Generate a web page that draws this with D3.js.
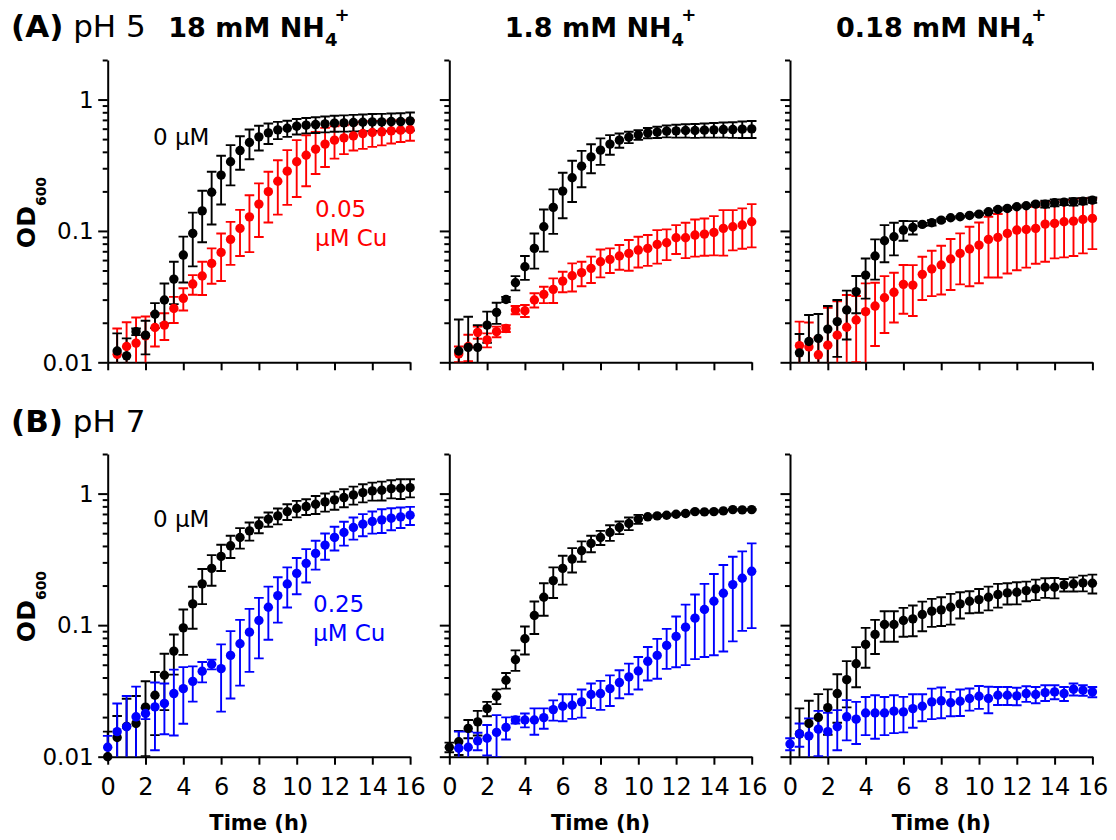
<!DOCTYPE html>
<html>
<head>
<meta charset="utf-8">
<script src="https://cdn.jsdelivr.net/npm/d3@7"></script>
<style>
  body { margin: 0; background: #fff; }
  svg text { font-family: "DejaVu Sans", sans-serif; }
</style>
</head>
<body>
<svg id="chart" width="1116" height="840"></svg>
<script>
// Sampling times (h)
const timeA = [0.5,1,1.5,2,2.5,3,3.5,4,4.5,5,5.5,6,6.5,7,7.5,8,8.5,9,9.5,10,10.5,11,11.5,12,12.5,13,13.5,14,14.5,15,15.5,16];
const timeB = [0,0.5,1,1.5,2,2.5,3,3.5,4,4.5,5,5.5,6,6.5,7,7.5,8,8.5,9,9.5,10,10.5,11,11.5,12,12.5,13,13.5,14,14.5,15,15.5,16];

// (A) pH 5 — mean OD600 and SD
const ph5_18_ctrl    = [0.0122,0.0112,0.0171,0.0161,0.0232,0.0298,0.0430,0.0655,0.0957,0.142,0.197,0.266,0.336,0.409,0.471,0.520,0.558,0.588,0.605,0.627,0.638,0.645,0.653,0.661,0.664,0.668,0.672,0.676,0.676,0.680,0.680,0.688];
const ph5_18_ctrl_sd = [0.0044,0.0040,0.0010,0.0046,0.0050,0.0100,0.0153,0.025,0.042,0.060,0.085,0.107,0.114,0.117,0.120,0.111,0.099,0.088,0.085,0.085,0.085,0.088,0.090,0.092,0.094,0.096,0.098,0.100,0.102,0.104,0.106,0.108];
const ph5_18_cu      = [0.0115,0.0132,0.0140,0.0159,0.0184,0.0192,0.0257,0.0307,0.0394,0.0454,0.0566,0.0686,0.0862,0.1045,0.128,0.160,0.199,0.239,0.285,0.336,0.377,0.419,0.458,0.491,0.511,0.529,0.551,0.561,0.568,0.578,0.585,0.591];
const ph5_18_cu_sd   = [0.0066,0.0070,0.0079,0.0064,0.0052,0.0044,0.0058,0.0059,0.0067,0.0129,0.017,0.027,0.031,0.040,0.059,0.070,0.083,0.106,0.127,0.155,0.158,0.148,0.151,0.136,0.127,0.120,0.130,0.125,0.120,0.115,0.110,0.105];

const ph5_1p8_ctrl    = [0.0122,0.0130,0.0130,0.0192,0.0240,0.0301,0.0403,0.0534,0.0736,0.1076,0.151,0.201,0.254,0.311,0.366,0.412,0.458,0.491,0.517,0.539,0.558,0.565,0.575,0.578,0.581,0.581,0.585,0.588,0.591,0.591,0.595,0.598];
const ph5_1p8_ctrl_sd = [0.0090,0.0092,0.0062,0.0051,0.0044,0.0014,0.0050,0.011,0.022,0.038,0.056,0.076,0.088,0.096,0.091,0.094,0.078,0.061,0.051,0.046,0.050,0.055,0.060,0.065,0.068,0.070,0.072,0.075,0.078,0.080,0.085,0.088];
const ph5_1p8_cu      = [0.0116,0.0132,0.0169,0.0148,0.0171,0.0181,0.0250,0.0247,0.0298,0.0329,0.0359,0.0415,0.0456,0.0481,0.0519,0.0583,0.0607,0.0644,0.0675,0.0715,0.0736,0.0789,0.0813,0.0887,0.0887,0.0930,0.0946,0.0974,0.1045,0.1076,0.1108,0.1174];
const ph5_1p8_cu_sd   = [0.0016,0.0030,0.0018,0.0018,0.0016,0.0011,0.0018,0.0026,0.0037,0.0047,0.0076,0.0074,0.0110,0.0102,0.0118,0.0140,0.0129,0.0137,0.0178,0.0188,0.0194,0.0225,0.0214,0.0220,0.0266,0.0293,0.0298,0.0322,0.0396,0.0365,0.0376,0.0425];

const ph5_0p18_ctrl    = [0.0118,0.0144,0.0152,0.0179,0.0204,0.0250,0.0345,0.0461,0.0644,0.0842,0.0903,0.1015,0.1063,0.1121,0.1154,0.1209,0.1259,0.1282,0.1312,0.1343,0.1398,0.1457,0.1483,0.1527,0.1554,0.160,0.160,0.1638,0.1657,0.1667,0.1686,0.1716];
const ph5_0p18_ctrl_sd = [0.0046,0.0085,0.0081,0.0089,0.0094,0.0101,0.0109,0.0156,0.0218,0.0265,0.0251,0.0174,0.0124,0.0030,0.0055,0.0030,0.0020,0.0020,0.0020,0.0020,0.0030,0.0030,0.0030,0.0030,0.0030,0.0040,0.0096,0.0098,0.0080,0.0110,0.0090,0.0082];
const ph5_0p18_cu      = [0.0134,0.0131,0.0114,0.0135,0.0161,0.0185,0.0210,0.0243,0.0268,0.0310,0.0341,0.0392,0.0387,0.0467,0.0513,0.0550,0.0611,0.0675,0.0728,0.0780,0.0862,0.0893,0.0957,0.1015,0.1026,0.1045,0.1127,0.1140,0.1174,0.1188,0.1224,0.1245];
const ph5_0p18_cu_sd   = [0.0070,0.0070,0.0040,0.0125,0.0130,0.0140,0.0110,0.0156,0.0135,0.0143,0.0140,0.0158,0.0162,0.0169,0.0194,0.0222,0.0256,0.0283,0.0349,0.0380,0.0420,0.0451,0.0483,0.0513,0.0500,0.0483,0.0544,0.0522,0.0545,0.0544,0.0549,0.0518];

// (B) pH 7 — mean OD600 and SD (null = no point drawn)
const ph7_18_ctrl    = [0.0100,0.0140,0.0170,0.0179,0.0238,0.0293,0.0416,0.0635,0.0954,0.145,0.206,0.270,0.333,0.401,0.464,0.521,0.579,0.639,0.677,0.730,0.770,0.797,0.830,0.865,0.895,0.933,0.977,1.018,1.048,1.060,1.091,1.098,1.110];
const ph7_18_ctrl_sd = [0.0055,0.0064,0.0106,0.0110,0.0137,0.0147,0.019,0.0214,0.036,0.051,0.0615,0.0708,0.0753,0.0767,0.082,0.082,0.079,0.079,0.093,0.100,0.110,0.109,0.130,0.136,0.141,0.146,0.153,0.160,0.164,0.173,0.171,0.187,0.174];
const ph7_18_cu      = [0.0118,0.0155,0.0169,0.0201,0.0213,0.0239,0.0254,0.0302,0.0329,0.0374,0.0446,0.0504,0.0467,0.0589,0.0722,0.0885,0.1085,0.1369,0.1678,0.2056,0.2477,0.2949,0.3512,0.4061,0.4642,0.5064,0.5526,0.5857,0.6136,0.6317,0.6503,0.6657,0.6854];
const ph7_18_cu_sd   = [0.0026,0.0099,0.0120,0.0140,0.0020,0.0127,0.0106,0.0157,0.0151,0.0112,0.0079,0.0043,0.0247,0.0312,0.0375,0.0444,0.0526,0.0594,0.0633,0.0693,0.076,0.0838,0.0867,0.0918,0.095,0.104,0.1055,0.112,0.117,0.1295,0.124,0.118,0.1076];

const ph7_1p8_ctrl    = [0.0118,0.0130,0.0164,0.0184,0.0232,0.0288,0.0381,0.0546,0.0788,0.1184,0.163,0.218,0.270,0.318,0.368,0.418,0.464,0.506,0.553,0.593,0.639,0.666,0.677,0.685,0.697,0.706,0.730,0.726,0.730,0.739,0.756,0.752,0.756];
const ph7_1p8_ctrl_sd = [0.0010,0.0027,0.0026,0.0039,0.0029,0.0037,0.0052,0.0097,0.0189,0.0328,0.0452,0.057,0.0668,0.067,0.065,0.060,0.057,0.069,0.061,0.065,0.050,0.010,0.010,0.010,0.010,0.010,0.010,0.010,0.010,0.010,0.010,0.010,0.010];
const ph7_1p8_cu      = [null,0.0116,0.0118,0.0132,0.0138,0.0153,0.0167,0.0190,0.0190,0.0190,0.0198,0.0228,0.0242,0.0246,0.0261,0.0297,0.0302,0.0329,0.0366,0.0404,0.0448,0.0531,0.0589,0.0701,0.0821,0.0965,0.113,0.1315,0.152,0.1748,0.2033,0.2271,0.2566];
const ph7_1p8_cu_sd   = [null,0.0039,0.0037,0.0020,0.0036,0.0054,0.0032,0.0011,0.0023,0.0043,0.0035,0.0040,0.0056,0.0052,0.0063,0.0063,0.0075,0.0086,0.0088,0.0106,0.0124,0.0151,0.0198,0.0236,0.0343,0.0468,0.0578,0.0743,0.0929,0.1117,0.128,0.1367,0.1617];

const ph7_0p18_ctrl    = [null,0.0149,0.0179,0.0199,0.0236,0.0302,0.0385,0.0509,0.0714,0.0850,0.1012,0.1012,0.1085,0.1117,0.1204,0.1277,0.1307,0.1369,0.1451,0.152,0.1564,0.163,0.1708,0.1758,0.1778,0.1831,0.1885,0.1941,0.1941,0.2022,0.2056,0.2094,0.2082];
const ph7_0p18_ctrl_sd = [null,0.0084,0.0087,0.0100,0.0089,0.0121,0.0148,0.0172,0.0240,0.0247,0.0265,0.0265,0.0268,0.0293,0.0306,0.0306,0.0323,0.0359,0.0328,0.0290,0.0321,0.0334,0.0350,0.0324,0.0340,0.0311,0.0334,0.0330,0.0344,0.0222,0.0253,0.0287,0.0340];
const ph7_0p18_cu      = [0.0125,0.0149,0.0144,0.0162,0.0155,0.0169,0.0201,0.0193,0.0215,0.0215,0.0215,0.0222,0.0219,0.0232,0.0242,0.0261,0.0266,0.0257,0.0264,0.0277,0.0288,0.0277,0.0293,0.0293,0.0290,0.0302,0.0297,0.0307,0.0311,0.0302,0.0326,0.0320,0.0311];
const ph7_0p18_cu_sd   = [0.0013,0.0030,0.0051,0.0061,0.0061,0.0057,0.0068,0.0068,0.0069,0.0078,0.0069,0.0071,0.0066,0.0066,0.0056,0.0068,0.0070,0.0054,0.0060,0.0053,0.0057,0.0063,0.0046,0.0046,0.0044,0.0041,0.0042,0.0042,0.0038,0.0037,0.0034,0.0029,0.0028];

// Axis ticks
const xTicks = [0,2,4,6,8,10,12,14,16];
const yTicks = [0.01,0.02,0.03,0.04,0.05,0.06,0.07,0.08,0.09,0.1,0.2,0.3,0.4,0.5,0.6,0.7,0.8,0.9,1,2];
const yMajor = [0.01,0.1,1];
const ammonium = ["18","1.8","0.18"];

const RED = "#ff0000", BLUE = "#0000ff", BLACK = "#000000";

const panels = [
  {row:0,col:0,time:timeA,series:[{v:ph5_18_cu,sd:ph5_18_cu_sd,c:RED},{v:ph5_18_ctrl,sd:ph5_18_ctrl_sd,c:BLACK}]},
  {row:0,col:1,time:timeA,series:[{v:ph5_1p8_cu,sd:ph5_1p8_cu_sd,c:RED},{v:ph5_1p8_ctrl,sd:ph5_1p8_ctrl_sd,c:BLACK}]},
  {row:0,col:2,time:timeA,series:[{v:ph5_0p18_cu,sd:ph5_0p18_cu_sd,c:RED},{v:ph5_0p18_ctrl,sd:ph5_0p18_ctrl_sd,c:BLACK}]},
  {row:1,col:0,time:timeB,series:[{v:ph7_18_ctrl,sd:ph7_18_ctrl_sd,c:BLACK},{v:ph7_18_cu,sd:ph7_18_cu_sd,c:BLUE}]},
  {row:1,col:1,time:timeB,series:[{v:ph7_1p8_ctrl,sd:ph7_1p8_ctrl_sd,c:BLACK},{v:ph7_1p8_cu,sd:ph7_1p8_cu_sd,c:BLUE}]},
  {row:1,col:2,time:timeB,series:[{v:ph7_0p18_ctrl,sd:ph7_0p18_ctrl_sd,c:BLACK},{v:ph7_0p18_cu,sd:ph7_0p18_cu_sd,c:BLUE}]}
];

// Layout
const rowTop = [60, 454], rowBottom = [362.3, 756.7];
const colLeft = [107.7, 449.3, 790], plotW = 302.4;

const svg = d3.select("#chart");
svg.append("rect").attr("width",1116).attr("height",840).attr("fill","#fff");
const defs = svg.append("defs");

panels.forEach((p, idx) => {
  const x0 = colLeft[p.col], x1 = x0 + plotW;
  const y0 = rowTop[p.row], y1 = rowBottom[p.row];
  const x = d3.scaleLinear().domain([0,16]).range([x0, x1]);
  const y = d3.scaleLog().domain([0.01,2]).range([y1, y0]);
  const g = svg.append("g");

  // axes
  const gy = g.append("g").attr("transform",`translate(${x0},0)`)
    .call(d3.axisLeft(y).tickValues(yTicks).tickSize(5).tickSizeOuter(0).tickFormat(""));
  gy.selectAll(".tick line").filter(d => yMajor.includes(d)).attr("x2",-9.5);
  const gx = g.append("g").attr("transform",`translate(0,${y1})`)
    .call(d3.axisBottom(x).tickValues(xTicks).tickSize(8).tickSizeOuter(0).tickPadding(13)
      .tickFormat(p.row === 1 ? d3.format("d") : ""));
  [gx, gy].forEach(a => {
    a.select(".domain").attr("stroke",BLACK).attr("stroke-width",2);
    a.selectAll(".tick line").attr("stroke",BLACK).attr("stroke-width",2);
  });
  gx.selectAll(".tick text").attr("font-size",24).attr("fill",BLACK)
    .style("font-family","'DejaVu Sans', sans-serif");

  if (p.col === 0) {
    g.selectAll("text.ylab").data(yMajor).join("text")
      .attr("x", x0 - 14).attr("y", d => y(d)).attr("dy","0.36em")
      .attr("text-anchor","end").attr("font-size",23).text(d => String(d));
  }

  // error bars, clipped at the axes
  const cid = "clip" + idx;
  defs.append("clipPath").attr("id",cid).append("rect")
    .attr("x", x0 - 15).attr("y", y0 - 20).attr("width", plotW + 30).attr("height", y1 - y0 + 20);
  const eb = g.append("g").attr("clip-path",`url(#${cid})`);
  const cap = 4.8;

  p.series.forEach(s => {
    const pts = p.time.map((t,i) => ({t, v:s.v[i], sd:s.sd[i]})).filter(d => d.v != null);
    const sg = eb.append("g").attr("stroke", s.c).attr("stroke-width",1.9).attr("fill","none");
    pts.forEach(d => {
      const cx = x(d.t);
      const hi = y(d.v + d.sd);
      const loV = d.v - d.sd;
      const lo = loV > 0.001 ? y(loV) : y1 + 30;
      sg.append("line").attr("x1",cx).attr("x2",cx).attr("y1",hi).attr("y2",lo);
      sg.append("line").attr("x1",cx-cap).attr("x2",cx+cap).attr("y1",hi).attr("y2",hi);
      if (loV > 0.001) sg.append("line").attr("x1",cx-cap).attr("x2",cx+cap).attr("y1",lo).attr("y2",lo);
    });
    g.append("g").selectAll("circle").data(pts).join("circle")
      .attr("cx", d => x(d.t)).attr("cy", d => y(d.v)).attr("r",4.7).attr("fill", s.c);
  });

  // panel title (top row)
  if (p.row === 0) {
    const tt = svg.append("text").attr("x",(x0+x1)/2).attr("y",36.5)
      .attr("text-anchor","middle").attr("font-size",27).attr("font-weight","bold").attr("fill",BLACK);
    tt.append("tspan").text(ammonium[p.col] + " mM NH");
    tt.append("tspan").attr("font-size",18).attr("dy",9).text("4");
    tt.append("tspan").attr("font-size",18).attr("dx",-3).attr("dy",-25).text("+");
  }
  // x-axis title (bottom row)
  if (p.row === 1) {
    svg.append("text").attr("x",(x0+x1)/2).attr("y",830).attr("text-anchor","middle")
      .attr("font-size",21).attr("font-weight","bold").text("Time (h)");
  }
  // y-axis title
  if (p.col === 0) {
    const cy = (p.row === 0 ? 212.5 : 606.5);
    const yl = svg.append("text").attr("transform",`translate(35,${cy}) rotate(-90)`)
      .attr("text-anchor","middle").attr("font-size",25).attr("font-weight","bold");
    yl.append("tspan").text("OD");
    yl.append("tspan").attr("font-size",14).attr("dy",11).text("600");
  }
});

// row headings
function heading(label, ph, yb) {
  const t = svg.append("text").attr("x",11).attr("y",yb).attr("font-size",31).attr("fill",BLACK);
  t.append("tspan").attr("font-weight","bold").text(label);
  t.append("tspan").text(" " + ph);
}
heading("(A)", "pH 5", 37);
heading("(B)", "pH 7", 432);

// series annotations
function note(xp, yb, lines, color) {
  lines.forEach((s, i) => {
    svg.append("text").attr("x",xp).attr("y",yb + i*29).attr("font-size",23).attr("fill",color).text(s);
  });
}
note(153, 145, ["0 μM"], BLACK);
note(315, 217, ["0.05", "μM Cu"], RED);
note(153, 527, ["0 μM"], BLACK);
note(313, 612, ["0.25", "μM Cu"], BLUE);
</script>
</body>
</html>
